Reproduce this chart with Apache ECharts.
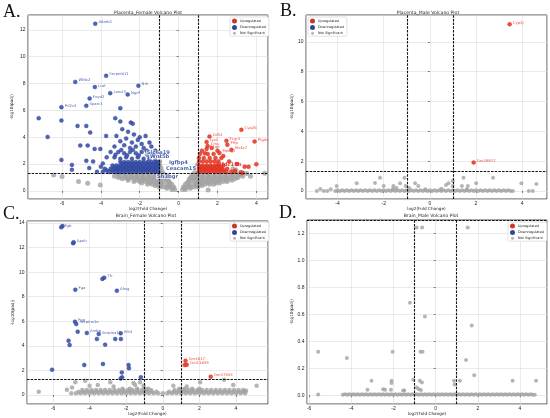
<!DOCTYPE html>
<html>
<head>
<meta charset="utf-8">
<script src="https://cdn.jsdelivr.net/npm/echarts@6.0.0/dist/echarts.min.js"></script>
<style>
html, body { margin: 0; padding: 0; background: #fff; }
#chart { width: 550px; height: 418px; }
</style>
</head>
<body>
<div id="chart"></div>
<script>
// panel texts
var letters = ['A.', 'B.', 'C.', 'D.'];
var titles = ['Placenta_Female Volcano Plot', 'Placenta_Male Volcano Plot', 'Brain_Female Volcano Plot', 'Brain_Male Volcano Plot'];
var legendNames = ['Upregulated', 'Downregulated', 'Not Significant'];
var fcCut = [-1, 1];
var padjCut = 1.3;

// axis extents
var xRange = [[-7.75, 4.6], [-5.37, 5.08], [-7.42, 5.75], [-6.1, 5.28]];
var yRange = [[-0.6, 13.1], [-0.54, 11.8], [-0.73, 14.16], [-0.065, 1.3]];
var ySplits = [6, 6, 7, 6];

// ---- A: Placenta_Female ----
var downLabA = [[-4.29, 12.45, 'Adarb1'], [-3.73, 8.57, 'Serpinb11'], [-5.32, 8.12, 'Wfdc2'], [-4.31, 7.73, 'Lrat'],
  [-2.07, 7.83, 'Nrk'], [-3.52, 7.28, 'Lancl3'], [-2.62, 7.18, 'Ngef'], [-4.58, 6.88, 'Fxyd2'],
  [-4.75, 6.34, 'Sparc1'], [-6.03, 6.24, 'Prl2c3']];
var downA = [[-7.2, 5.42], [-6.74, 4.02], [-6.03, 5.24], [-5.2, 4.84], [-4.75, 4.84], [-4.55, 4.35], [-5.06, 3.38],
  [-4.68, 3.38], [-4.32, 3.13], [-4.03, 3.13], [-3.26, 5.42], [-3.0, 5.17], [-2.46, 5.09], [-2.36, 5.0], [-3.0, 6.16],
  [-3.73, 4.1], [-6.03, 2.31], [-5.49, 1.94], [-5.49, 1.57], [-4.75, 2.24], [-4.4, 2.2], [-4.0, 1.8], [-3.9, 2.05],
  [-4.6, 1.7], [-2.9, 4.6], [-2.6, 4.4], [-3.2, 4.1], [-2.3, 4.2], [-2.0, 4.0], [-1.7, 4.1], [-2.7, 3.9], [-3.0, 3.7],
  [-2.4, 3.6], [-2.1, 3.8], [-1.9, 3.5], [-1.5, 3.6], [-3.3, 3.3], [-2.8, 3.4], [-2.5, 3.2], [-2.2, 3.3], [-1.8, 3.2],
  [-1.4, 3.3], [-1.2, 3.0], [-3.5, 2.9], [-3.1, 2.9], [-2.8, 2.8], [-2.5, 2.9], [-2.2, 2.8], [-1.9, 2.9], [-1.6, 2.7],
  [-1.3, 2.7], [-3.7, 2.5], [-3.3, 2.5], [-3.0, 2.4], [-2.7, 2.5], [-2.4, 2.4], [-2.1, 2.5], [-1.8, 2.4], [-1.5, 2.4],
  [-1.2, 2.3], [-2.95, 3.05], [-2.35, 3.05], [-1.65, 3.0], [-2.05, 2.65], [-2.65, 2.65], [-3.25, 2.7]];
var downRowsA = [
  [2.15, [-3.0, -2.8, -2.6, -2.4, -2.2, -2.0, -1.8, -1.6, -1.4, -1.2, -1.05]],
  [2.02, [-2.9, -2.7, -2.5, -2.3, -2.1, -1.9, -1.7, -1.5, -1.3, -1.1]],
  [1.9, [-3.4, -3.2, -3.0, -2.8, -2.6, -2.4, -2.2, -2.0, -1.8, -1.6, -1.4, -1.2, -1.05]],
  [1.77, [-3.3, -3.1, -2.9, -2.7, -2.5, -2.3, -2.1, -1.9, -1.7, -1.5, -1.3, -1.1]],
  [1.65, [-3.8, -3.5, -3.3, -3.1, -2.9, -2.7, -2.5, -2.3, -2.1, -1.9, -1.7, -1.5, -1.3, -1.1]],
  [1.53, [-3.7, -3.4, -3.2, -3.0, -2.8, -2.6, -2.4, -2.2, -2.0, -1.8, -1.6, -1.4, -1.2]],
  [1.42, [-4.2, -3.9, -3.6, -3.4, -3.2, -3.0, -2.8, -2.6, -2.4, -2.2, -2.0, -1.8, -1.6, -1.4, -1.2, -1.05]]
];
var upLabA = [[3.23, 4.55, 'Cyp26'], [3.91, 3.68, 'Ptgds'], [1.59, 4.05, 'Cd52'], [1.44, 3.65, 'Lyz2'],
  [1.49, 3.35, 'Ctss'], [1.44, 3.13, 'C1qb'], [2.46, 3.73, 'Fcgr3'], [2.51, 3.43, 'Pltp'], [2.72, 3.06, 'Ms4a7'],
  [2.1, 2.83, 'Mpeg1']];
var upA = [[3.4, 1.8], [3.6, 1.8], [2.9, 1.5], [3.2, 1.4], [2.6, 2.2], [3.0, 2.0], [4.0, 1.99], [2.3, 2.6], [2.0, 3.0],
  [1.7, 3.2], [1.2, 3.0], [1.35, 2.8], [3.3, 1.35]];
var upRowsA = [
  [2.75, [1.1, 1.5, 1.8]],
  [2.45, [1.05, 1.3, 1.6, 1.9, 2.2]],
  [2.2, [1.05, 1.25, 1.45, 1.65, 1.85, 2.05]],
  [1.9, [1.05, 1.25, 1.45, 1.65, 1.85, 2.05, 2.3]],
  [1.77, [1.15, 1.35, 1.55, 1.75, 1.95, 2.15]],
  [1.65, [1.05, 1.25, 1.45, 1.65, 1.85, 2.05, 2.25, 2.5]],
  [1.53, [1.15, 1.35, 1.55, 1.75, 1.95, 2.15, 2.35]],
  [1.42, [1.05, 1.25, 1.45, 1.65, 1.85, 2.05, 2.25, 2.45, 2.7, 2.9]]
];
var boldDownA = [[-1.68, 2.83, 'Slc6a19'], [-1.52, 2.53, 'Wnt5b'], [-0.55, 2.09, 'Igfbp4'], [-0.7, 1.69, 'Ceacam15'], [-1.16, 1.07, 'Sh3bgr']];
var boldUpA = [[1.86, 1.96, 'Wfdc15b']];
var greyA = [[-6.43, 1.19], [-6.0, 1.07], [-5.15, 0.7], [-4.68, 0.57], [-4.03, 0.45], [2.8, 1.65], [2.95, 1.55],
  [3.5, 1.3], [4.43, 1.32], [3.2, 1.2], [3.7, 1.1], [1.52, 0.07]];
var greyRowsA = [
  [0.1, [-0.35, -0.2, 0.2, 0.35]],
  [0.2, [-0.6, -0.3, 0.3, 0.6]],
  [0.3, [-1.0, -0.8, -0.6, -0.4, -0.25, 0.25, 0.4, 0.6, 0.8, 1.0]],
  [0.4, [-1.2, -0.9, -0.5, 0.5, 0.9, 1.2]],
  [0.5, [-1.6, -1.35, -1.1, -0.85, -0.6, -0.35, 0.35, 0.6, 0.85, 1.1, 1.35, 1.6, 1.8]],
  [0.6, [-1.9, -1.5, -1.2, -0.95, -0.45, 0.45, 0.95, 1.2, 1.5, 1.9, 2.1]],
  [0.7, [-2.3, -2.0, -1.7, -1.4, -1.1, -0.8, -0.5, 0.5, 0.8, 1.1, 1.4, 1.7, 2.0, 2.3, 2.5]],
  [0.8, [-2.6, -2.15, -1.85, -1.55, -1.25, -0.95, -0.6, 0.6, 0.95, 1.25, 1.55, 1.85, 2.15, 2.45, 2.75]],
  [0.9, [-2.9, -2.6, -2.3, -2.0, -1.7, -1.4, -1.1, -0.8, -0.55, 0.55, 0.8, 1.1, 1.4, 1.7, 2.0, 2.3, 2.6, 2.9]],
  [1.0, [-3.1, -2.75, -2.45, -2.15, -1.85, -1.55, -1.25, -0.95, -0.7, 0.7, 0.95, 1.25, 1.55, 1.85, 2.15, 2.45, 2.75, 3.05]],
  [1.1, [-3.3, -3.0, -2.7, -2.4, -2.1, -1.8, -1.5, -1.2, -0.9, -0.65, 0.65, 0.9, 1.2, 1.5, 1.8, 2.1, 2.4, 2.7, 3.0, 3.3]],
  [1.25, [-3.1, -2.8, -2.5, -2.2, -1.9, -1.6, -1.3, -1.0, -0.75, 0.75, 1.0, 1.3, 1.6, 1.9, 2.2, 2.5, 2.8, 3.1]],
  [1.45, [-1.0, -0.85, 0.85, 1.0]],
  [1.7, [-1.0, -0.9, 0.9, 1.0]],
  [1.95, [-0.98, 0.98]],
  [2.2, [-0.97]]
];

// ---- B: Placenta_Male ----
var upLabB = [[3.46, 11.18, 'Cyp2j'], [1.9, 1.9, 'Gm26917']];
var greyB = [[-4.9, 0.0], [-4.75, 0.13], [-4.6, 0.0], [-4.45, 0.0], [-4.3, 0.11], [-4.04, 0.33], [-3.17, 0.51],
  [-2.38, 0.54], [-2.16, 0.89], [-2.0, 0.33], [-1.58, 0.33], [-1.45, 0.2], [-1.29, 0.51], [-1.1, 0.89], [-1.05, 0.33],
  [-0.9, 0.2], [-0.64, 0.51], [-0.5, 0.33], [0.7, 0.4], [0.81, 0.51], [0.99, 0.67], [0.99, 0.33], [1.46, 0.89],
  [1.39, 0.33], [1.65, 0.33], [2.01, 0.51], [2.74, 0.89], [3.97, 0.51], [4.29, 0.0], [4.46, 0.0], [4.62, 0.47],
  [-1.6, 0.15], [-0.2, 0.12], [0.5, 0.15], [1.6, 0.12]];
var greyRowsB = [
  [0.0, [-4.1, -3.9, -3.7, -3.5, -3.3, -3.1, -2.9, -2.7, -2.5, -2.3, -2.1, -1.9, -1.7, -1.5, -1.3, -1.1, -0.9, -0.7,
    -0.5, -0.3, -0.1, 0.1, 0.3, 0.5, 0.7, 0.9, 1.1, 1.3, 1.5, 1.7, 1.9, 2.1, 2.3, 2.5, 2.7, 2.9, 3.1, 3.3, 3.5, 3.6]],
  [0.05, [-4.0, -3.8, -3.6, -3.4, -3.2, -3.0, -2.8, -2.6, -2.4, -2.2, -2.0, -1.8, -1.6, -1.4, -1.2, -1.0, -0.8, -0.6,
    -0.4, -0.2, 0, 0.2, 0.4, 0.6, 0.8, 1.0, 1.2, 1.4, 1.6, 1.8, 2.0, 2.2, 2.4, 2.6, 2.8, 3.0, 3.2, 3.4]]
];

// ---- C: Brain_Female ----
var downLabC = [[-5.55, 13.65, 'Fgb'], [-4.87, 12.43, 'Apoh'], [-3.2, 9.55, 'Ttr'], [-4.78, 8.57, 'Fga'],
  [-2.51, 8.49, 'Ahsg'], [-4.8, 5.97, 'Fgg'], [-4.73, 5.78, 'Serpina1e'], [-4.15, 5.05, 'Ambp'],
  [-3.5, 4.96, 'Serpina1b'], [-2.3, 5.02, 'Itih4']];
var downC = [[-5.48, 13.75], [-4.9, 12.35], [-3.3, 9.45], [-4.65, 5.15], [-5.15, 4.42], [-5.09, 4.07], [-3.6, 4.56],
  [-3.15, 4.1], [-2.6, 4.56], [-2.29, 4.56], [-4.29, 2.44], [-3.27, 2.52], [-1.87, 2.44], [-1.85, 2.17], [-2.24, 1.84],
  [-2.22, 1.44], [-6.05, 2.06], [-1.2, 1.44], [-2.3, 1.35]];
var upLabC = [[1.24, 2.79, 'Gm4617'], [1.31, 2.47, 'Gm13839'], [2.62, 1.49, 'Gm37833']];
var upC = [[1.2, 2.45]];
var greyC = [[-6.78, 0.27], [-5.24, 0.43], [-4.96, 0.62], [-4.78, 1.03], [-4.24, 1.17], [-4.0, 0.76], [-3.55, 0.81],
  [-2.87, 1.03], [-2.69, 0.7], [-1.6, 0.98], [-1.51, 0.81], [-1.24, 1.03], [-1.05, 0.76], [0.58, 0.76], [1.31, 0.7],
  [2.04, 1.03], [3.35, 1.25], [3.85, 0.81], [4.49, 0.27], [5.13, 0.76], [4.55, 0.35]];
var greyRowsC = [
  [0.15, [-5.0, -4.75, -4.5, -4.25, -4.0, -3.75, -3.5, -3.25, -3.0, -2.75, -2.5, -2.25, -2.0, -1.75, -1.5, -1.25, -1.0,
    -0.75, -0.5, -0.25, 0, 0.25, 0.5, 0.75, 1.0, 1.25, 1.5, 1.75, 2.0, 2.25, 2.5, 2.75, 3.0, 3.25, 3.5, 3.75, 4.0, 4.25, 4.5]],
  [0.27, [-4.6, -4.35, -4.1, -3.85, -3.6, -3.35, -3.1, -2.85, -2.6, -2.35, -2.1, -1.85, -1.6, -1.35, -1.1, -0.85,
    -0.6, -0.35, 0.35, 0.6, 0.85, 1.1, 1.35, 1.6, 1.85, 2.1, 2.35, 2.6, 2.85, 3.1, 3.35, 3.6, 3.85, 4.1, 4.35]],
  [0.4, [-4.4, -4.15, -3.9, -3.65, -3.4, -3.15, -2.9, -2.65, -2.4, -2.15, -1.9, -1.65, -1.4, -1.15, -0.9, -0.65,
    0.65, 0.9, 1.15, 1.4, 1.65, 1.9, 2.15, 2.4, 2.65, 2.9, 3.15, 3.4, 3.65, 3.9, 4.15, 4.4]],
  [0.52, [-2.2, -1.8, -1.4, -1.0, -0.8, 0.9, 1.2, 1.6, 2.0]]
];

// ---- D: Brain_Male ----
var greyD = [[-0.9, 1.245], [-0.64, 1.245], [1.52, 1.245], [-1.22, 0.686], [-0.51, 0.584], [1.71, 0.517],
  [-5.57, 0.323], [-2.04, 0.323], [-0.72, 0.323], [-0.62, 0.323], [-4.21, 0.276], [1.44, 0.261], [1.83, 0.149],
  [-3.04, 0.107], [-2.09, 0.107], [-2.09, 0.09], [-1.06, 0.114], [-0.75, 0.107], [-0.65, 0.095], [0.87, 0.107],
  [1.15, 0.107], [3.65, 0.107], [4.76, 0.107], [-3.23, 0.04], [-2.49, 0.045], [-2.4, 0.04], [-2.12, 0.04],
  [-1.54, 0.035], [-1.49, 0.035], [-0.9, 0.057], [-0.8, 0.045], [-0.7, 0.038], [-5.57, 0.005], [0.9, 0.08]];
var greyRowsD = [
  [0.004, [-4.4, -4.2, -4.0, -3.8, -3.6, -3.4, -3.2, -3.0, -2.8, -2.6, -2.4, -2.2, -2.0, -1.8, -1.6, -1.4, -1.2, -1.0,
    -0.8, -0.6, -0.4, -0.2, 0, 0.2, 0.4, 0.6, 0.8, 1.0, 1.2, 1.4, 1.6, 1.8, 2.0, 2.2, 2.4, 2.6, 2.8, 3.0, 3.2, 3.4,
    3.6, 3.8, 4.0, 4.2, 4.4, 4.6, 4.7]],
  [0.008, [-4.3, -4.1, -3.9, -3.7, -3.5, -3.3, -3.1, -2.9, -2.7, -2.5, -2.3, -2.1, -1.9, -1.7, -1.5, -1.3, -1.1, -0.9,
    -0.7, -0.5, -0.3, -0.1, 0.1, 0.3, 0.5, 0.7, 0.9, 1.1, 1.3, 1.5, 1.7, 1.9, 2.1, 2.3, 2.5, 2.7, 2.9, 3.1, 3.3, 3.5,
    3.7, 3.9, 4.1, 4.3, 4.5]]
];

var panels = [
  { up: [upA, upRowsA, upLabA], down: [downA, downRowsA, downLabA], grey: [greyA, greyRowsA], boldUp: boldUpA, boldDown: boldDownA },
  { up: [[], [], upLabB], down: [[], [], []], grey: [greyB, greyRowsB], boldUp: [], boldDown: [] },
  { up: [upC, [], upLabC], down: [downC, [], downLabC], grey: [greyC, greyRowsC], boldUp: [], boldDown: [] },
  { up: [[], [], []], down: [[], [], []], grey: [greyD, greyRowsD], boldUp: [], boldDown: [] }
];

// layout
var grids = [[28, 15, 240, 184], [306, 15, 241, 184], [27, 221, 241, 183], [307, 220, 240, 184]];
var legendPos = [[230, 17], [308, 17], [230, 222], [508, 222]];
var letterPos = [[3, 3], [280, 2], [3, 205], [279, 204]];
var titlePos = [[148, 10], [428, 10], [146, 213], [431, 213]];
var yNameGap = [14, 11, 11, 13];
var greySize = [5, 4, 4.5, 4];

var RED = '#ee3b2a', BLUE = '#3c54ae', GREY = '#a2a2a2';
var FONT = 'DejaVu Sans';

function rows(list) {
  var out = [];
  list.forEach(function (r) {
    r[1].forEach(function (x) { out.push([x, r[0]]); });
  });
  return out;
}
function labelled(list) {
  return list.map(function (p) {
    return { value: [p[0], p[1]], name: p[2], label: { show: true } };
  });
}
function oneDecimal(v) { return (Math.round(v * 10) / 10).toFixed(1); }

var option = {
  animation: false,
  backgroundColor: '#fff',
  title: [], legend: [], grid: [], xAxis: [], yAxis: [], series: []
};

panels.forEach(function (pn, i) {
  var g = grids[i];
  option.grid.push({ left: g[0], top: g[1], width: g[2], height: g[3], show: true, borderColor: '#000', borderWidth: 0.7, containLabel: false });
  option.title.push({ text: letters[i], left: letterPos[i][0], top: letterPos[i][1], padding: 0,
    textStyle: { fontFamily: 'Liberation Serif', fontSize: 18, fontWeight: 'normal', color: '#111' } });
  option.title.push({ text: titles[i], left: titlePos[i][0], top: titlePos[i][1], textAlign: 'center', padding: 0,
    textStyle: { fontFamily: FONT, fontSize: 4.6, fontWeight: 'normal', color: '#222' } });
  option.legend.push({ data: legendNames, orient: 'vertical', left: legendPos[i][0], top: legendPos[i][1],
    itemWidth: 3, itemHeight: 3, itemGap: 1.6, icon: 'circle', padding: [1.5, 3, 1.5, 2],
    borderColor: '#cfcfcf', borderWidth: 0.6, borderRadius: 1.5, backgroundColor: '#fff',
    textStyle: { fontFamily: FONT, fontSize: 3.4, color: '#222', padding: [0, 0, 0, -1] } });
  var yLabel = { fontFamily: 'Liberation Sans', fontSize: 5, color: '#222', margin: 2.5, showMinLabel: false, showMaxLabel: false };
  if (i === 3) yLabel.formatter = oneDecimal;
  option.xAxis.push({
    type: 'value', gridIndex: i, min: xRange[i][0], max: xRange[i][1], minInterval: 2, maxInterval: 2,
    name: 'log2(Fold Change)', nameLocation: 'middle', nameGap: 8,
    nameTextStyle: { fontFamily: FONT, fontSize: 4.2, color: '#222' },
    axisLine: { show: false }, axisTick: { show: true, length: 2, lineStyle: { color: '#000', width: 0.5 } },
    axisLabel: { fontFamily: 'Liberation Sans', fontSize: 5, color: '#222', margin: 2.5, showMinLabel: false, showMaxLabel: false },
    splitLine: { show: true, lineStyle: { color: '#dcdcdc', width: 0.6 } }
  });
  option.yAxis.push({
    type: 'value', gridIndex: i, min: yRange[i][0], max: yRange[i][1], splitNumber: ySplits[i],
    name: '-log10(padj)', nameLocation: 'middle', nameGap: yNameGap[i], nameRotate: 90,
    nameTextStyle: { fontFamily: FONT, fontSize: 4.2, color: '#222' },
    axisLine: { show: false }, axisTick: { show: true, length: 2, lineStyle: { color: '#000', width: 0.5 } },
    axisLabel: yLabel,
    splitLine: { show: true, lineStyle: { color: '#dcdcdc', width: 0.6 } }
  });

  option.series.push({
    name: 'Not Significant', type: 'scatter', xAxisIndex: i, yAxisIndex: i, symbolSize: greySize[i], z: 2,
    itemStyle: { color: GREY },
    data: pn.grey[0].concat(rows(pn.grey[1])),
    markLine: { silent: true, symbol: 'none', label: { show: false }, animation: false,
      lineStyle: { color: '#111', type: [2.5, 1.2], width: 1.1 },
      data: [{ xAxis: fcCut[0] }, { xAxis: fcCut[1] }, { yAxis: padjCut }] }
  });
  option.series.push({
    name: 'Downregulated', type: 'scatter', xAxisIndex: i, yAxisIndex: i, symbolSize: 4, z: 3,
    itemStyle: { color: BLUE, borderColor: '#25398a', borderWidth: 0.4, opacity: 0.9 },
    label: { show: false, position: 'right', distance: 1, offset: [0, -1.5], fontFamily: FONT, fontSize: 3.8, color: BLUE,
      formatter: function (p) { return p.name; } },
    data: pn.down[0].concat(rows(pn.down[1])).concat(labelled(pn.down[2]))
  });
  option.series.push({
    name: 'Upregulated', type: 'scatter', xAxisIndex: i, yAxisIndex: i, symbolSize: 4, z: 3,
    itemStyle: { color: RED, borderColor: '#c8281a', borderWidth: 0.4, opacity: 0.9 },
    label: { show: false, position: 'right', distance: 1, offset: [0, -1.5], fontFamily: FONT, fontSize: 3.8, color: RED,
      formatter: function (p) { return p.name; } },
    data: pn.up[0].concat(rows(pn.up[1])).concat(labelled(pn.up[2]))
  });
  if (pn.boldDown.length || pn.boldUp.length) {
    option.series.push({
      name: 'bold labels', type: 'scatter', xAxisIndex: i, yAxisIndex: i, symbolSize: 0, z: 5, silent: true,
      label: { show: true, position: 'right', distance: 0, fontFamily: FONT, fontSize: 5.2, fontWeight: 'bold',
        backgroundColor: 'rgba(255,255,255,0.85)', padding: [0, 1], formatter: function (p) { return p.name; } },
      data: pn.boldDown.map(function (p) {
        return { value: [p[0], p[1]], name: p[2], label: { color: '#1f3f99' } };
      }).concat(pn.boldUp.map(function (p) {
        return { value: [p[0], p[1]], name: p[2], label: { color: '#e0201a', backgroundColor: 'transparent' } };
      }))
    });
  }
});

var chart = echarts.init(document.getElementById('chart'), null, { renderer: 'canvas' });
chart.setOption(option);
</script>
</body>
</html>
